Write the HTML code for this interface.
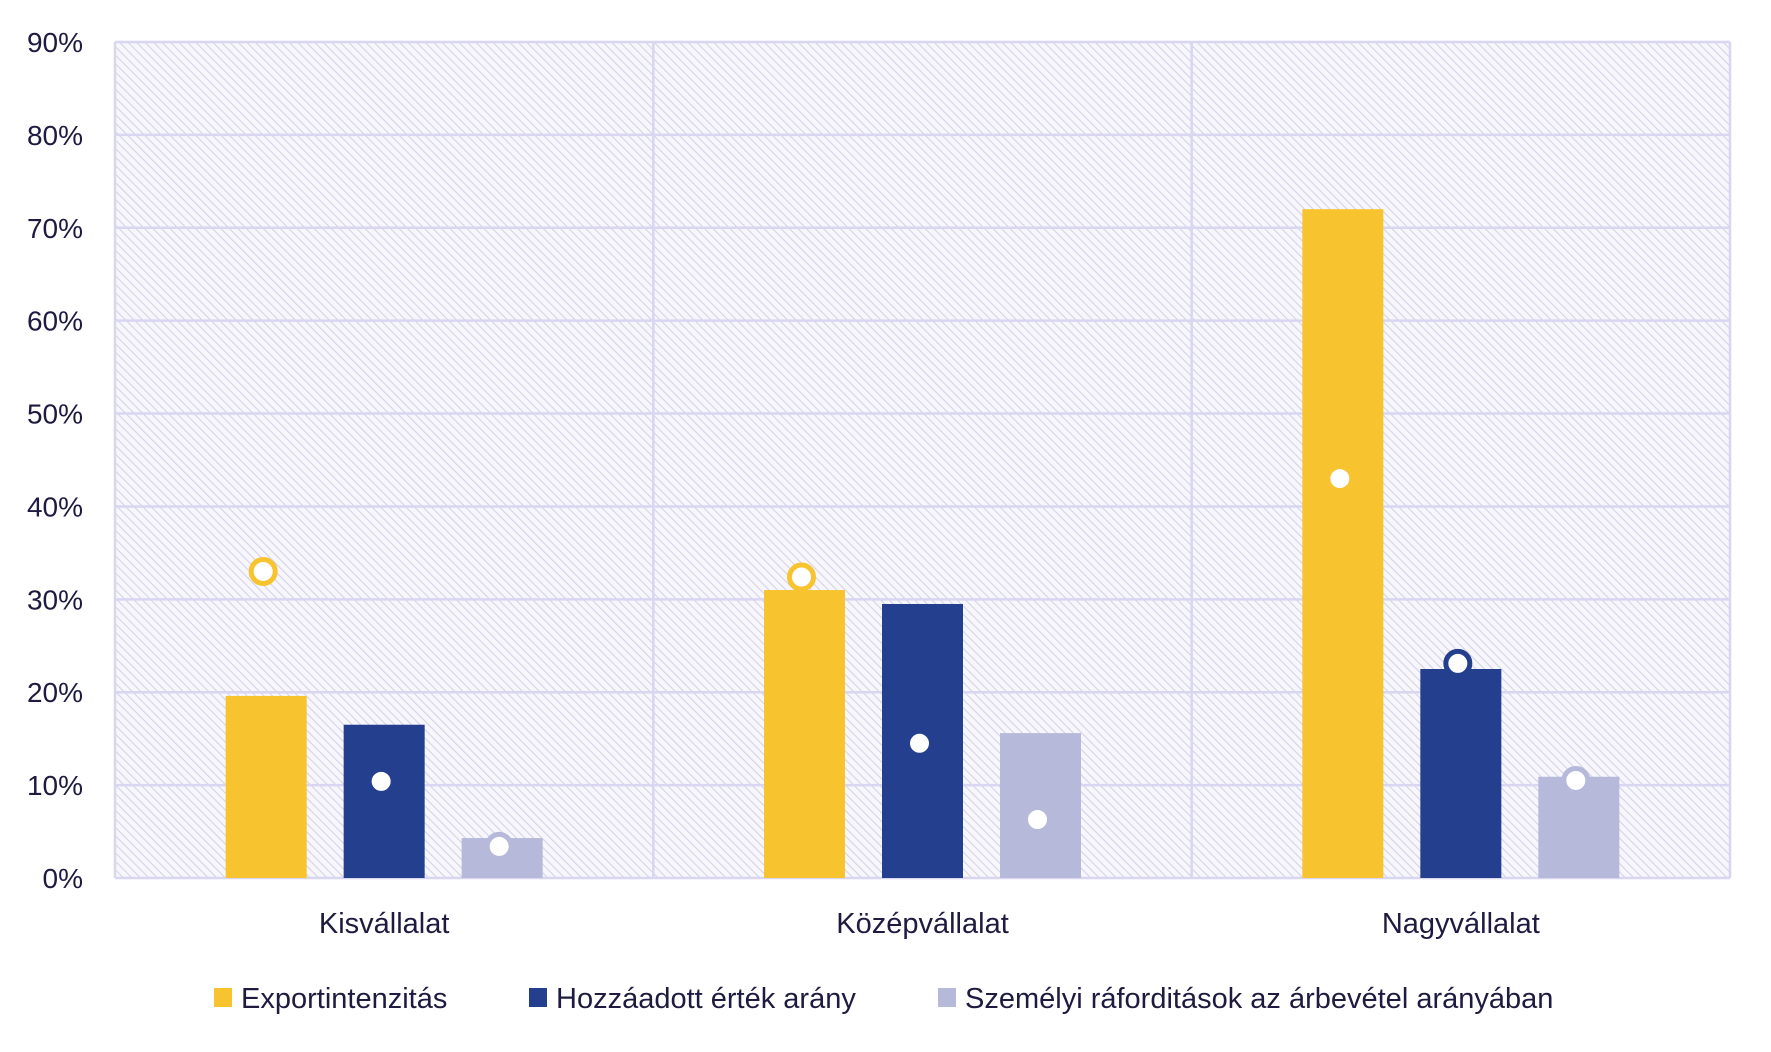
<!DOCTYPE html>
<html><head><meta charset="utf-8"><style>
body{margin:0;background:#fff;}
svg{display:block;font-family:"Liberation Sans",sans-serif;}
</style></head><body>
<svg id="chart" width="1771" height="1052" viewBox="0 0 1771 1052">
<defs>
<pattern id="hatch" width="6" height="6" patternUnits="userSpaceOnUse" patternTransform="rotate(-45)">
<rect width="6" height="6" fill="#f7f7fb"/>
<line x1="0" y1="0" x2="0" y2="6" stroke="#d4d2e8" stroke-width="2.2"/>
</pattern>
</defs>
<rect x="115" y="42" width="1615" height="836" fill="url(#hatch)"/>
<g id="grid"></g>
<g id="bars"></g>
<g id="markers"></g>
<g id="labels"></g>
<g id="legend"></g>
</svg>
<script>
const categories = ["Kisvállalat", "Középvállalat", "Nagyvállalat"];
const seriesNames = ["Exportintenzitás", "Hozzáadott érték arány", "Személyi ráforditások az árbevétel arányában"];
const exportBars = [19.6, 31.0, 72.0];
const addedBars = [16.5, 29.5, 22.5];
const personalBars = [4.3, 15.6, 10.9];
const exportMarkers = [33.0, 32.4, 43.0];
const addedMarkers = [10.4, 14.5, 23.1];
const personalMarkers = [3.4, 6.3, 10.5];
const yTicks = [0, 10, 20, 30, 40, 50, 60, 70, 80, 90];
const yTickLabels = ["0%", "10%", "20%", "30%", "40%", "50%", "60%", "70%", "80%", "90%"];

const NS = "http://www.w3.org/2000/svg";
const L = 115, R = 1730, T = 42, B = 878, MAX = 90;
const colors = ["#f7c32e", "#233f8d", "#b7b9da"];
const y = v => B - v / MAX * (B - T);
const catW = (R - L) / categories.length;
const xc = i => L + catW * (i + 0.5);
const offs = [-118, 0, 118];
const BW = 81;
function mk(tag, attrs, parent) {
  const e = document.createElementNS(NS, tag);
  for (const k in attrs) e.setAttribute(k, attrs[k]);
  parent.appendChild(e);
  return e;
}
const grid = document.getElementById("grid");
yTicks.forEach((t, i) => {
  const l = mk("line", {x1: L, x2: R, y1: y(t), y2: y(t), stroke: "#d8d6f0", "stroke-width": 2.5}, grid);
  
  
  const tx = mk("text", {x: 83, y: y(t) + 10, "text-anchor": "end", "font-size": 28, fill: "#1e1a40"}, grid);
  tx.textContent = yTickLabels[i];
  
  
});
for (let i = 0; i <= categories.length; i++) {
  const x = L + catW * i;
  const l = mk("line", {x1: x, x2: x, y1: T, y2: B, stroke: "#d8d6f0", "stroke-width": 2.5}, grid);
  
  
}
const barsG = document.getElementById("bars");
const markG = document.getElementById("markers");
const barSets = [exportBars, addedBars, personalBars];
const markSets = [exportMarkers, addedMarkers, personalMarkers];
categories.forEach((c, i) => {
  barSets.forEach((s, j) => {
    const r = mk("rect", {x: xc(i) + offs[j] - BW / 2, y: y(s[i]), width: BW, height: B - y(s[i]), fill: colors[j]}, barsG);
    
    
  });
  markSets.forEach((s, j) => {
    const m = mk("circle", {cx: xc(i) + offs[j] - 3, cy: y(s[i]), r: 12, fill: "#fff", stroke: colors[j], "stroke-width": 5}, markG);
    
    
  });
  const t = mk("text", {x: xc(i), y: 933, "text-anchor": "middle", "font-size": 29, fill: "#1e1a40"}, document.getElementById("labels"));
  t.textContent = c;
  
  
});
const lg = document.getElementById("legend");
const lx = [214, 529, 938];
seriesNames.forEach((n, j) => {
  const s = mk("rect", {x: lx[j], y: 988, width: 18, height: 19, fill: colors[j]}, lg);
  
  
  const t = mk("text", {x: lx[j] + 27, y: 1008, "font-size": 29, fill: "#1e1a40"}, lg);
  t.textContent = n;
  
  
});
</script>
</body></html>
